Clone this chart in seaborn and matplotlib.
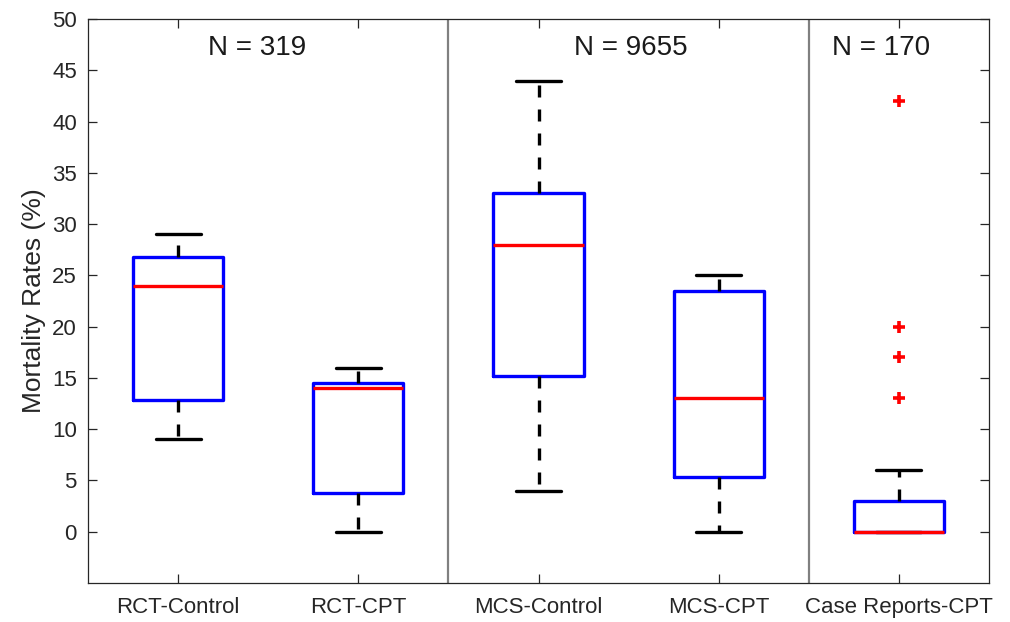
import numpy as np
import pandas as pd
import matplotlib
matplotlib.use("Agg")
import matplotlib.pyplot as plt
import seaborn as sns

# ---- data ----
categories = ["RCT-Control", "RCT-CPT", "MCS-Control", "MCS-CPT", "Case Reports-CPT"]
rct_control = [9.0, 12.8, 24.0, 26.8, 29.0]
rct_cpt = [0.0, 3.8, 14.0, 14.5, 16.0]
mcs_control = [4.0, 15.2, 28.0, 33.0, 44.0]
mcs_cpt = [0.0, 5.3, 13.0, 23.5, 25.0]
case_reports_cpt = [0, 0, 0, 0, 0, 0, 0, 0, 0, 0, 0, 0,
                    3, 3, 3, 3, 3, 3, 6, 13, 17, 20, 42]
group_counts = ["N = 319", "N = 9655", "N = 170"]
y_ticks = [0, 5, 10, 15, 20, 25, 30, 35, 40, 45, 50]

series = [rct_control, rct_cpt, mcs_control, mcs_cpt, case_reports_cpt]
df = pd.DataFrame({
    "group": [c for c, s in zip(categories, series) for _ in s],
    "value": [v for s in series for v in s],
})

# ---- style ----
sns.set_theme(style="ticks")
plt.rcParams["font.family"] = ["Liberation Sans", "DejaVu Sans"]
dark = "#262626"

fig = plt.figure(figsize=(10.1, 6.22), dpi=100)
ax = fig.add_axes([88 / 1010, 1 - 583 / 622, (989 - 88) / 1010, (583 - 19) / 622])

lw = 2.4
sns.boxplot(
    data=df, x="group", y="value", order=categories, ax=ax,
    width=0.5, whis=1.5, fill=False, linecolor="blue", linewidth=lw,
    boxprops=dict(color="blue", linewidth=lw),
    medianprops=dict(color="red", linewidth=lw),
    whiskerprops=dict(color="black", linewidth=lw, linestyle=(0, (3.6, 3.6))),
    capprops=dict(color="black", linewidth=lw),
    flierprops=dict(marker="+", markeredgecolor="red", markerfacecolor="red",
                    markersize=9, markeredgewidth=2.6),
)

ax.set_xlim(-0.5, 4.5)
ax.set_ylim(-5, 50)
ax.set_yticks(y_ticks)
ax.set_xlabel("")
ax.set_ylabel("Mortality Rates (%)", fontsize=19, color=dark, labelpad=4)

for sp in ax.spines.values():
    sp.set_visible(True)
    sp.set_color(dark)
    sp.set_linewidth(0.9)

ax.tick_params(axis="both", direction="in", top=True, right=True,
               length=6.5, width=0.9, colors=dark, labelsize=16)
ax.tick_params(axis="x", pad=10)
ax.tick_params(axis="y", pad=8)

# group separators
for xsep in (1.5, 3.5):
    ax.axvline(xsep, color="#808080", linewidth=1.6, zorder=1)

# group size labels
for xpos, txt in zip((0.44, 2.51, 3.9), group_counts):
    ax.text(xpos, 47.2, txt, ha="center", va="center", fontsize=20, color="#1a1a1a")

fig.savefig("out.png", dpi=100, facecolor="white")
